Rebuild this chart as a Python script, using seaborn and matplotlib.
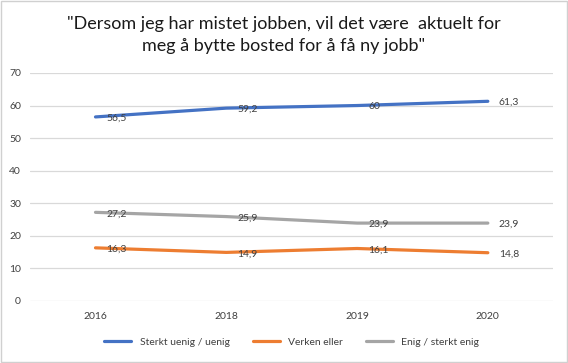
import pandas as pd
import matplotlib.pyplot as plt
import seaborn as sns
from matplotlib.patches import Rectangle

# Values
years = ["2016", "2018", "2019", "2020"]
series_names = ["Sterkt uenig / uenig", "Verken eller", "Enig / sterkt enig"]
uenig = [56.5, 59.2, 60, 61.3]
verken = [16.3, 14.9, 16.1, 14.8]
enig = [27.2, 25.9, 23.9, 23.9]
colors = ["#4472C4", "#ED7D31", "#A5A5A5"]

title = '"Dersom jeg har mistet jobben, vil det være  aktuelt for\nmeg å bytte bosted for å få ny jobb"'

rows = []
for name, vals in zip(series_names, [uenig, verken, enig]):
    for yr, v in zip(years, vals):
        rows.append({"year": yr, "value": v, "serie": name})
df = pd.DataFrame(rows)

sns.set_style("white")
plt.rcParams["font.family"] = ["Lato", "DejaVu Sans"]

fig = plt.figure(figsize=(5.68, 3.63), dpi=100)
ax = fig.add_axes([0.053, 0.171, 0.921, 0.628])

sns.lineplot(data=df, x="year", y="value", hue="serie", palette=colors,
             hue_order=series_names, sort=False, linewidth=2.3, ax=ax)

# data labels to the right of each point
for name, vals in zip(series_names, [uenig, verken, enig]):
    for i, v in enumerate(vals):
        txt = f"{v:g}".replace(".", ",")
        ax.annotate(txt, (i, v), xytext=(8, -1), textcoords="offset points",
                    ha="left", va="center", fontsize=7.5, color="#404040")

ax.set_xlim(-0.5, 3.5)
ax.set_ylim(0, 70)
ax.set_yticks(range(0, 71, 10))
ax.yaxis.grid(True, color="#D9D9D9", linewidth=0.9)
ax.set_axisbelow(True)
for s in ax.spines.values():
    s.set_visible(False)
ax.tick_params(axis="both", length=0, labelsize=7.5, labelcolor="#404040", pad=8)
ax.tick_params(axis="y", pad=6.5)
ax.set_xlabel("")
ax.set_ylabel("")

ax.legend(loc="upper center", bbox_to_anchor=(0.5, -0.12), ncol=3, frameon=False,
          fontsize=7.5, handlelength=2.6, columnspacing=2.2, labelcolor="#404040")

fig.text(0.5, 0.955, title, ha="center", va="top", fontsize=13, color="#1a1a1a",
         linespacing=1.4)

fig.patches.append(Rectangle((0.001, 0.002), 0.997, 0.995, transform=fig.transFigure,
                             fill=False, edgecolor="#D0D0D0", linewidth=1))

fig.savefig("out.png", dpi=100)
